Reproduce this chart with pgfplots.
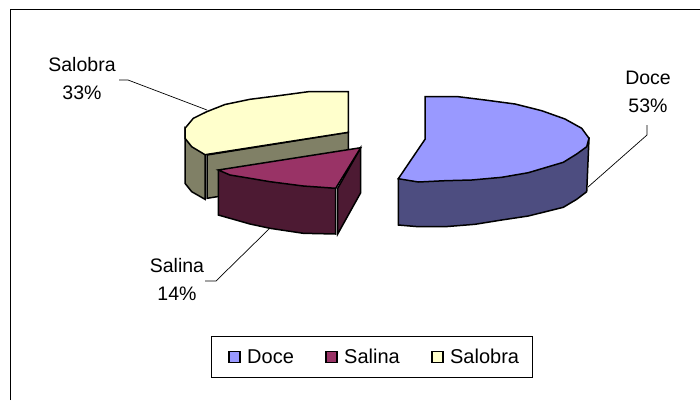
\documentclass[border=0pt]{standalone}
\usepackage{fontspec}
\setmainfont{Liberation Sans}
\usepackage{pgfplots}
\pgfplotsset{compat=1.18}
\definecolor{doceT}{HTML}{9999FF}\definecolor{doceS}{HTML}{4D4D80}
\definecolor{salinaT}{HTML}{993366}\definecolor{salinaS}{HTML}{4D1A33}
\definecolor{salobraT}{HTML}{FFFFCC}\definecolor{salobraS}{HTML}{808066}
\newcommand{\lab}{\fontsize{19.5}{23}\selectfont}
\begin{document}
\begin{tikzpicture}[x=1pt,y=1pt]
\path[use as bounding box] (0,0) rectangle (700pt,400pt);
\begin{axis}[
  scale only axis, width=700pt, height=400pt,
  xmin=0, xmax=700, ymin=0, ymax=400, y dir=reverse,
  axis lines=none, clip=false,
  legend columns=3,
  legend style={at={(axis cs:371.5,357)},anchor=center,draw=black,line width=0.8pt,
    font=\fontsize{20}{23}\selectfont,inner xsep=11pt,inner ysep=10.5pt,
    /tikz/every even column/.append style={column sep=23pt},
    /tikz/every odd column/.append style={column sep=4.5pt},
    cells={anchor=west}},
  legend image code/.code={\path[draw=none,fill=none] (-7pt,0pt) -- (11pt,0pt);\draw[#1,line width=1.6pt] (0pt,-5.5pt) rectangle (11pt,5.5pt);},
]
\addlegendimage{fill=doceT,draw=black}
\addlegendimage{fill=salinaT,draw=black}
\addlegendimage{fill=salobraT,draw=black}
% chart frame
\addplot[black,line width=1pt] coordinates {(10,400)(10,9)(700,9)};
% leader lines
\addplot[black,line width=0.7pt] coordinates {(119,80)(128,80)(207,110)};
\addplot[black,line width=0.7pt] coordinates {(588,187)(647,135)(647,125)};
\addplot[black,line width=0.7pt] coordinates {(269,229)(216,281)(205,281)};
% Doce
\addplot[fill=doceS,draw=black,line width=1.5pt] coordinates {(398.3,178.7)(398.3,225)(418.3,226.7)(445,226.7)(475,224.3)(501.7,220)(528.3,216)(563.3,207.3)(576.7,199.3)(586.7,191.7)(589,138.3)} -- cycle;
\addplot[fill=doceT,draw=black,line width=1.5pt] coordinates {(425,96.7)(458.3,96.7)(485,100)(515,104)(541.7,110.7)(565,119)(581.7,128.3)(589,138.3)(586.7,146.7)(576.7,154)(563.3,162.3)(528.3,172.7)(501.7,177.3)(471.7,180)(445,180.7)(418.3,182)(398.3,178.7)(425,139.3)} -- cycle;
% Salobra
\addplot[fill=salobraS,draw=black,line width=1.5pt] coordinates {(185,128.3)(185,183.3)(191.7,191.7)(205,199.3)(205,154.7)} -- cycle;
\addplot[fill=salobraS,draw=black,line width=1.5pt] coordinates {(207,155)(348.3,132.3)(348.3,176)(207,198.3)} -- cycle;
\addplot[fill=salobraT,draw=black,line width=1.5pt] coordinates {(348.3,91.7)(308.3,91.7)(280,95.5)(250,99.3)(225,104.5)(206.7,111.7)(193.3,118.3)(185,128.3)(185,138.3)(191.7,146.7)(205,154.7)(348.3,132.3)} -- cycle;
% Salina
\addplot[fill=salinaS,draw=black,line width=1.5pt] coordinates {(337.7,188.3)(360.7,147.7)(360.7,192.7)(337.7,234)} -- cycle;
\addplot[fill=salinaS,draw=black,line width=1.5pt] coordinates {(218.3,170)(218.3,215)(250,224)(270,228.3)(303.3,233.3)(335.7,234)(335.7,188.3)} -- cycle;
\addplot[fill=salinaT,draw=black,line width=1.5pt] coordinates {(218.3,170)(360.7,147.7)(335.7,188.3)(303.3,186)(270,181.7)(250,178.3)(230,175)} -- cycle;
% labels
\node[font=\lab,align=center,inner sep=0pt] at (axis cs:82,79) {Salobra\\[5pt]33\%};
\node[font=\lab,align=center,inner sep=0pt] at (axis cs:648,92) {Doce\\[5pt]53\%};
\node[font=\lab,align=center,inner sep=0pt] at (axis cs:177,279) {Salina\\[5pt]14\%};
\legend{Doce,Salina,Salobra}
\end{axis}
\end{tikzpicture}
\end{document}
